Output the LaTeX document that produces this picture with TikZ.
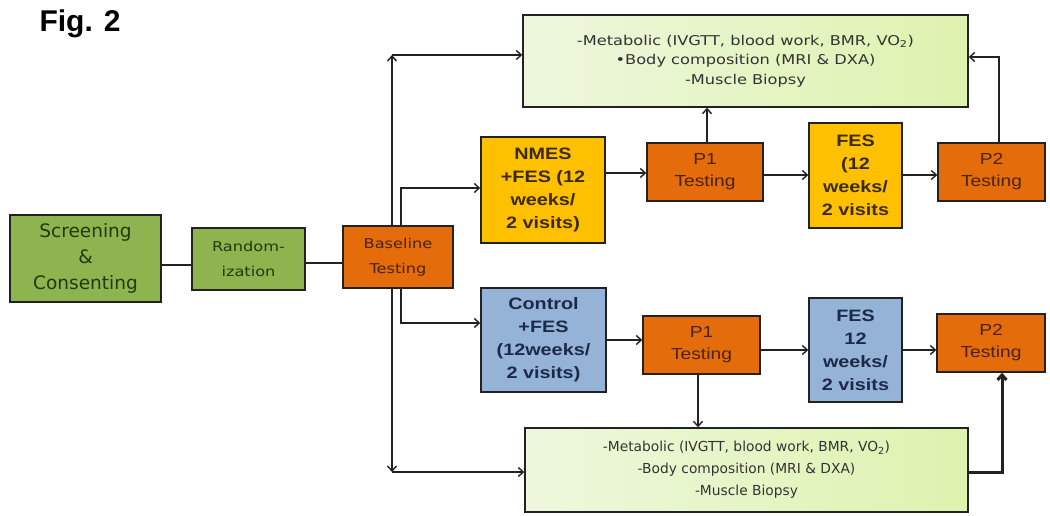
\documentclass[tikz,border=0pt]{standalone}
\usepackage{fontspec}
\setmainfont{Liberation Sans}
\newfontfamily\dvs{DejaVu Sans}
\newfontfamily\dvsw[FakeStretch=1.2]{DejaVu Sans}
\newfontfamily\lsw[FakeStretch=1.2]{Liberation Sans}
\usetikzlibrary{arrows.meta}
\definecolor{grnfill}{HTML}{8DB44E}
\definecolor{grntext}{HTML}{1E3B10}
\definecolor{orgfill}{HTML}{E46C0A}
\definecolor{orgtext}{HTML}{4A2205}
\definecolor{yelfill}{HTML}{FFC000}
\definecolor{yeltext}{HTML}{3A2A05}
\definecolor{blufill}{HTML}{95B3D7}
\definecolor{blutext}{HTML}{1B2A48}
\definecolor{lgA}{HTML}{EEF7DE}
\definecolor{lgB}{HTML}{DDF3AE}
\definecolor{linec}{HTML}{222222}
\begin{document}
\begin{tikzpicture}[x=1pt,y=-1pt,
  box/.style={draw=linec, line width=1.4pt, inner sep=0pt, align=center, anchor=center},
  grnbox/.style={box, fill=grnfill, text=grntext},
  orgbox/.style={box, fill=orgfill, text=orgtext, font=\lsw\fontsize{16}{22}\selectfont},
  yelbox/.style={box, fill=yelfill, text=yeltext, font=\lsw\bfseries\fontsize{16.5}{23}\selectfont},
  blubox/.style={box, fill=blufill, text=blutext, font=\lsw\bfseries\fontsize{16.5}{23}\selectfont},
  lgbox/.style={box, left color=lgA, right color=lgB, text=black!80},
  conn/.style={draw=linec, line width=1.4pt},
  arr/.style={conn, -{Straight Barb[length=5pt,width=9pt]}}
]
\useasboundingbox (0,0) rectangle (1050,516);
\fill[white] (0,0) rectangle (1050,516);

\node[anchor=west, font=\bfseries\fontsize{30}{34}\selectfont] (fig) at (36,24) {Fig. 2};

\node[grnbox, minimum width=151pt, minimum height=87pt, font=\dvs\fontsize{18.5}{26}\selectfont] (screen) at (85.5,258.5) {Screening\\\&\\Consenting};
\node[grnbox, minimum width=113pt, minimum height=62pt, font=\dvsw\fontsize{13.5}{25}\selectfont] (rand) at (248.5,259) {Random-\\ization};
\node[orgbox, minimum width=110pt, minimum height=62pt, font=\dvsw\fontsize{13.5}{25}\selectfont] (base) at (398,257) {Baseline\\Testing};

\node[lgbox, minimum width=445pt, minimum height=92pt, font=\dvsw\fontsize{13.5}{19.5}\selectfont] (topbox) at (745.5,61) {-Metabolic (IVGTT, blood work, BMR, VO\textsubscript{2})\\{\textbullet}Body composition (MRI \& DXA)\\-Muscle Biopsy};
\node[lgbox, minimum width=443pt, minimum height=84pt, font=\dvs\fontsize{13.8}{22}\selectfont] (botbox) at (746.5,470) {-Metabolic (IVGTT, blood work, BMR, VO\textsubscript{2})\\-Body composition (MRI \& DXA)\\-Muscle Biopsy};

\node[yelbox, minimum width=124pt, minimum height=106pt] (nmes) at (543,190) {NMES\\+FES (12\\weeks/\\2 visits)};
\node[orgbox, minimum width=116pt, minimum height=58pt] (p1a) at (705,172) {P1\\Testing};
\node[yelbox, minimum width=93pt, minimum height=105pt] (fesa) at (855.5,175.5) {FES\\(12\\weeks/\\2 visits};
\node[orgbox, minimum width=107pt, minimum height=58pt] (p2a) at (991.5,172) {P2\\Testing};

\node[blubox, minimum width=125pt, minimum height=104pt] (ctrl) at (543.5,340) {Control\\+FES\\(12weeks/\\2 visits)};
\node[orgbox, minimum width=117pt, minimum height=58pt] (p1b) at (701.5,345) {P1\\Testing};
\node[blubox, minimum width=93pt, minimum height=104pt] (fesb) at (855.5,350) {FES\\12\\weeks/\\2 visits};
\node[orgbox, minimum width=108pt, minimum height=58pt] (p2b) at (991,343) {P2\\Testing};

% left chain
\draw[conn] (screen.east |- 0,265) -- (rand.west |- 0,265);
\draw[conn] (rand.east |- 0,263) -- (base.west |- 0,263);

% from baseline
\coordinate (tc) at (392,55);
\draw[arr] (base.north -| tc) -- (tc);
\draw[arr] (tc) -- (tc -| topbox.west);
\coordinate (nc) at (401,188);
\draw[arr] (base.north -| nc) -- (nc) -- (nc -| nmes.west);
\coordinate (cc) at (401,323);
\draw[arr] (base.south -| cc) -- (cc) -- (cc -| ctrl.west);
\coordinate (bc) at (392,472);
\draw[arr] (base.south -| bc) -- (bc);
\draw[arr] (bc) -- (bc -| botbox.west);

% upper row
\draw[arr] (nmes.east |- 0,173) -- (p1a.west |- 0,173);
\coordinate (pu) at (707,130);
\draw[arr] (p1a.north -| pu) -- (pu |- topbox.south);
\draw[arr] (p1a.east |- 0,175) -- (fesa.west |- 0,175);
\draw[arr] (fesa.east |- 0,175) -- (p2a.west |- 0,175);
\coordinate (pc) at (999,57);
\draw[arr] (p2a.north -| pc) -- (pc) -- (pc -| topbox.east);

% lower row
\draw[arr] (ctrl.east |- 0,340) -- (p1b.west |- 0,340);
\coordinate (pd) at (698,400);
\draw[arr] (p1b.south -| pd) -- (pd |- botbox.north);
\draw[arr] (p1b.east |- 0,350) -- (fesb.west |- 0,350);
\draw[arr] (fesb.east |- 0,350) -- (p2b.west |- 0,350);
\coordinate (bd) at (1002,472);
\draw[arr, line width=3pt] (botbox.east |- bd) -- (bd) -- (bd |- p2b.south);
\end{tikzpicture}
\end{document}
